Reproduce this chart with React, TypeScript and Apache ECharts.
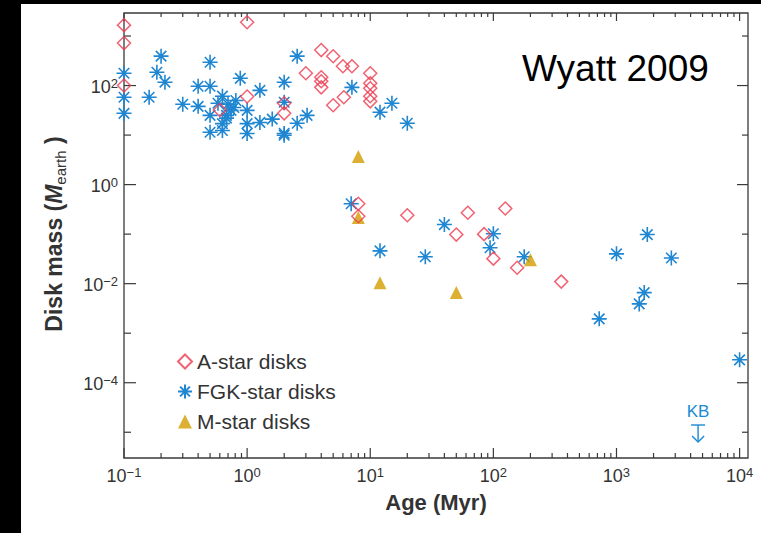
import React, { useEffect, useRef } from 'react';
import * as echarts from 'echarts';

// ---- data (Age in Myr, disk mass in Earth masses) ----
const A_STAR_DISKS: [number, number][] = [
  [0.1, 1660], [0.1, 720], [0.1, 100], [1, 1900], [1, 60], [0.6, 32], [2, 44], [2, 27.5],
  [3, 177], [4, 520], [5, 390], [6, 245], [7.1, 245], [4, 147], [4, 122], [4, 92],
  [6.1, 58], [5, 40], [10, 177], [10, 111], [10, 88], [10, 61], [10, 48],
  [8, 0.41], [8, 0.23], [20, 0.24], [62, 0.27], [125, 0.33], [50, 0.098], [84, 0.1],
  [100, 0.032], [156, 0.021], [356, 0.011],
];

const FGK_STAR_DISKS: [number, number][] = [
  [0.1, 177], [0.1, 58], [0.1, 27.5], [0.16, 58], [0.185, 186], [0.2, 392], [0.215, 117],
  [0.3, 42], [0.4, 97], [0.4, 38], [0.5, 296], [0.5, 97], [0.5, 25], [0.5, 11.4],
  [0.63, 61], [0.58, 44], [0.63, 12.4], [0.68, 25], [0.7, 42], [0.78, 36], [0.74, 31.6],
  [0.81, 50], [0.68, 22], [0.63, 17], [0.88, 140], [1, 31.6], [1, 17], [1, 10.8],
  [1.27, 80], [1.27, 18], [1.6, 21], [2, 117], [2, 46], [2, 10.8], [2, 9.9],
  [2.55, 392], [2.55, 17.3], [3.07, 25], [7.1, 92], [12, 29], [15, 44], [20, 17.3],
  [7, 0.41], [12, 0.046], [28, 0.035], [40, 0.156], [100, 0.102], [94, 0.053], [178, 0.035],
  [1000, 0.04], [1780, 0.098], [2790, 0.033], [1680, 0.0066], [1530, 0.0039], [724, 0.00195],
  [10000, 0.00029],
];

const M_STAR_DISKS: [number, number][] = [
  [8, 3.7], [8, 0.216], [12, 0.0104], [50, 0.0066], [200, 0.0305],
];

const KUIPER_BELT: [number, number][] = [[4600, 1.4e-5]];

// ---- axes ----
const X_MIN = 0.1;
const X_MAX = 11700;
const Y_MIN = 3.02e-6;
const Y_MAX = 2917;
const X_DECADES = [0.1, 1, 10, 100, 1000, 10000];
const X_LABELS = ['−1', '0', '1', '2', '3', '4'];
const X_MINOR_MULT = [2, 3, 4, 5, 6, 7, 8, 9];
const Y_LABELED = [1e-4, 1e-2, 1, 100];
const Y_LABELS = ['−4', '−2', '0', '2'];
const Y_UNLABELED = [1e-5, 1e-3, 0.1, 10, 1000];

const FONT = '"Liberation Sans", Arial, Helvetica, sans-serif';
const TEXT = '#333333';
const AXIS = '#3a3a3a';
const RED = '#ee3b50';
const BLUE = '#1f86d2';
const GOLD = '#d39d00';
const KB_BLUE = '#1a8ad4';

const ASTERISK = 'path://M0,5L10,5M5,0L5,10M1.5,1.5L8.5,8.5M8.5,1.5L1.5,8.5';

export default function App() {
  const ref = useRef<HTMLDivElement>(null);

  useEffect(() => {
    if (!ref.current) return;
    const chart = echarts.init(ref.current, undefined, { renderer: 'svg' });

    const xMinor: number[] = [];
    X_DECADES.forEach((d) => {
      X_MINOR_MULT.forEach((m) => {
        if (d * m < X_MAX) xMinor.push(d * m);
      });
    });
    const xTickData = [
      ...X_DECADES.map((v) => [v, 1, 1]),
      ...xMinor.map((v) => [v, 1, 0]),
    ];
    const yTickData = [
      ...Y_LABELED.map((v) => [1, v, 1]),
      ...Y_UNLABELED.map((v) => [1, v, 0]),
    ];

    const supRich = {
      b: { fontSize: 18, lineHeight: 20, fontFamily: FONT, fill: TEXT, color: TEXT },
      s: { fontSize: 13, lineHeight: 12, fontFamily: FONT, fill: TEXT, color: TEXT, verticalAlign: 'top' },
    };

    const option: any = {
      animation: false,
      grid: {
        left: 124, top: 13, width: 624, height: 445,
        show: true, borderColor: AXIS, borderWidth: 1.3, backgroundColor: 'transparent',
        containLabel: false,
      },
      xAxis: {
        type: 'log', logBase: 10, min: X_MIN, max: X_MAX,
        axisLine: { show: false }, axisTick: { show: false },
        axisLabel: { show: false }, splitLine: { show: false },
      },
      yAxis: {
        type: 'log', logBase: 10, min: Y_MIN, max: Y_MAX,
        axisLine: { show: false }, axisTick: { show: false },
        axisLabel: { show: false }, splitLine: { show: false },
      },
      legend: {
        orient: 'vertical', left: 172, top: 346,
        itemWidth: 14, itemHeight: 14, itemGap: 9,
        textStyle: { fontSize: 21, color: TEXT, fontFamily: FONT, lineHeight: 21 },
        data: ['A-star disks', 'FGK-star disks', 'M-star disks'],
      },
      graphic: [
        {
          type: 'text', left: 522, top: 50,
          style: { text: 'Wyatt 2009', fontSize: 37, fontFamily: FONT, fill: '#000' },
        },
        {
          type: 'text', x: 436, y: 502,
          style: {
            text: 'Age (Myr)', fontSize: 22, fontWeight: 'bold', fontFamily: FONT,
            fill: TEXT, align: 'center', verticalAlign: 'middle',
          },
        },
        {
          type: 'text', x: 54, y: 234, rotation: Math.PI / 2,
          style: {
            text: '{n|Disk mass (}{m|M}{e|earth}{n| )}',
            align: 'center', verticalAlign: 'middle',
            rich: {
              n: { fontSize: 23, fontWeight: 'bold', fontFamily: FONT, fill: TEXT, lineHeight: 28 },
              m: { fontSize: 23, fontWeight: 'bold', fontStyle: 'italic', fontFamily: FONT, fill: TEXT, lineHeight: 28 },
              e: { fontSize: 15, fontFamily: FONT, fill: TEXT, lineHeight: 15, verticalAlign: 'bottom' },
            },
          },
        },
      ],
      series: [
        {
          name: 'FGK-star disks', type: 'scatter', data: FGK_STAR_DISKS,
          symbol: ASTERISK, symbolSize: 15,
          itemStyle: { color: BLUE, borderColor: BLUE, borderWidth: 1.6, opacity: 1 },
        },
        {
          name: 'M-star disks', type: 'scatter', data: M_STAR_DISKS,
          symbol: 'triangle', symbolSize: 13,
          itemStyle: { color: GOLD },
        },
        {
          name: 'A-star disks', type: 'scatter', data: A_STAR_DISKS,
          symbol: 'diamond', symbolSize: 13,
          itemStyle: { color: 'rgba(255,255,255,0)', borderColor: RED, borderWidth: 1.5 },
        },
        {
          type: 'custom', name: 'xticks', data: xTickData, clip: false, silent: true,
          encode: { x: 0, y: 1 },
          renderItem: (params: any, api: any) => {
            const cs = params.coordSys;
            const x = api.coord([api.value(0), 1])[0];
            const major = api.value(2) === 1;
            const bottom = cs.y + cs.height;
            const top = cs.y;
            const style = { stroke: AXIS, lineWidth: 1.2 };
            return {
              type: 'group',
              children: [
                { type: 'line', shape: { x1: x, y1: bottom, x2: x, y2: bottom - (major ? 10 : 5) }, style },
                { type: 'line', shape: { x1: x, y1: top, x2: x, y2: top + (major ? 8 : 4) }, style },
              ],
            };
          },
        },
        {
          type: 'custom', name: 'yticks', data: yTickData, clip: false, silent: true,
          encode: { x: 0, y: 1 },
          renderItem: (params: any, api: any) => {
            const cs = params.coordSys;
            const y = api.coord([1, api.value(1)])[1];
            const major = api.value(2) === 1;
            const left = cs.x;
            const right = cs.x + cs.width;
            const style = { stroke: AXIS, lineWidth: 1.2 };
            return {
              type: 'group',
              children: [
                { type: 'line', shape: { x1: left, y1: y, x2: left + (major ? 12 : 7), y2: y }, style },
                { type: 'line', shape: { x1: right, y1: y, x2: right - (major ? 11 : 6), y2: y }, style },
              ],
            };
          },
        },
        {
          type: 'custom', name: 'xlabels', data: X_DECADES.map((v) => [v, 1]), clip: false, silent: true,
          encode: { x: 0, y: 1 },
          renderItem: (params: any, api: any) => {
            const cs = params.coordSys;
            const x = api.coord([api.value(0), 1])[0];
            return {
              type: 'text', x, y: cs.y + cs.height + 8,
              style: {
                text: `{b|10}{s|${X_LABELS[params.dataIndex]}}`,
                rich: supRich, align: 'center', verticalAlign: 'top',
              },
            };
          },
        },
        {
          type: 'custom', name: 'ylabels', data: Y_LABELED.map((v) => [1, v]), clip: false, silent: true,
          encode: { x: 0, y: 1 },
          renderItem: (params: any, api: any) => {
            const cs = params.coordSys;
            const y = api.coord([1, api.value(1)])[1];
            return {
              type: 'text', x: cs.x - 6, y: y + 1,
              style: {
                text: `{b|10}{s|${Y_LABELS[params.dataIndex]}}`,
                rich: supRich, align: 'right', verticalAlign: 'middle',
              },
            };
          },
        },
        {
          type: 'custom', name: 'KB', data: KUIPER_BELT, clip: false, silent: true,
          encode: { x: 0, y: 1 },
          renderItem: (params: any, api: any) => {
            const p = api.coord([api.value(0), api.value(1)]);
            const x = p[0];
            const y = p[1];
            const style = { stroke: KB_BLUE, lineWidth: 1.4, fill: 'none' };
            return {
              type: 'group',
              children: [
                {
                  type: 'text', x, y: y - 14,
                  style: { text: 'KB', fontSize: 17, fontFamily: FONT, fill: KB_BLUE, align: 'center', verticalAlign: 'middle' },
                },
                { type: 'line', shape: { x1: x - 7, y1: y, x2: x + 7, y2: y }, style },
                { type: 'line', shape: { x1: x, y1: y, x2: x, y2: y + 17 }, style },
                { type: 'polyline', shape: { points: [[x - 6, y + 11], [x, y + 17], [x + 6, y + 11]] }, style },
              ],
            };
          },
        },
      ],
    };

    chart.setOption(option);
    return () => chart.dispose();
  }, []);

  return (
    <div style={{ position: 'fixed', left: 0, top: 0, width: 761, height: 533, background: '#000' }}>
      <div style={{ position: 'absolute', left: 21, top: 4, width: 740, height: 529, background: '#fff' }} />
      <div ref={ref} style={{ position: 'absolute', left: 0, top: 0, width: 761, height: 533 }} />
    </div>
  );
}
